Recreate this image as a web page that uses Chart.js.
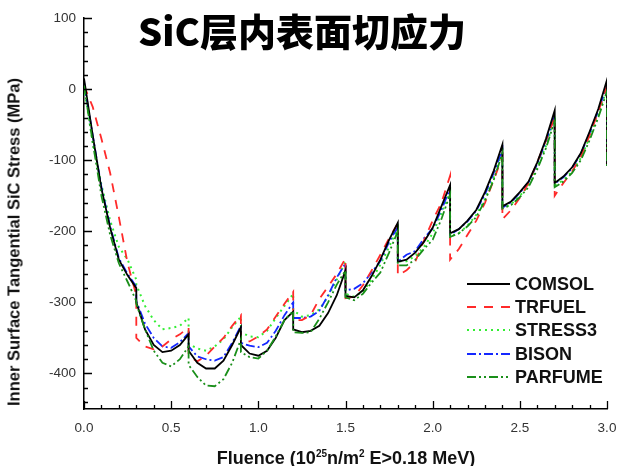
<!DOCTYPE html>
<html>
<head>
<meta charset="utf-8">
<script src="https://cdn.jsdelivr.net/npm/chart.js@4.4.1/dist/chart.umd.min.js"></script>
<style>
  html, body { margin: 0; padding: 0; background: #fff; }
  #wrap { position: relative; width: 619px; height: 466px; overflow: hidden; }
  #c { position: absolute; left: 0; top: 0; }
  #title { position: absolute; left: 302px; top: 30px; transform: translate(-50%, -50%); white-space: nowrap;
           font-family: "Noto Sans CJK SC", "Noto Sans", sans-serif; font-weight: 900; font-size: 38px; color: #000; line-height: 46px; }
  #ytitle { position: absolute; left: 14px; top: 242px; transform: translate(-50%, -50%) rotate(-90deg);
            white-space: nowrap; font-family: "Liberation Sans", Arial, sans-serif; font-weight: bold; font-size: 16.5px; color: #111; }
  #xtitle { position: absolute; left: 346px; top: 458px; transform: translate(-50%, -50%);
            white-space: nowrap; font-family: "Liberation Sans", Arial, sans-serif; font-weight: bold; font-size: 18px; color: #111; }
  #xtitle sup { font-size: 10px; vertical-align: 7px; line-height: 0; }
</style>
</head>
<body>
<div id="wrap">
  <canvas id="c" width="619" height="466"></canvas>
  <div id="title">SiC层内表面切应力</div>
  <div id="ytitle">Inner Surface Tangential SiC Stress (MPa)</div>
  <div id="xtitle">Fluence (10<sup>25</sup>n/m<sup>2</sup> E&gt;0.18 MeV)</div>
</div>
<script>
const fluence = [0,0.05,0.1,0.15,0.2,0.25,0.3,0.3,0.35,0.4,0.45,0.5,0.55,0.6,0.6,0.65,0.7,0.75,0.8,0.85,0.9,0.9,0.95,1.0,1.05,1.1,1.15,1.2,1.2,1.25,1.3,1.35,1.4,1.45,1.5,1.5,1.55,1.6,1.65,1.7,1.75,1.8,1.8,1.85,1.9,1.95,2.0,2.05,2.1,2.1,2.15,2.2,2.25,2.3,2.35,2.4,2.4,2.45,2.5,2.55,2.6,2.65,2.7,2.7,2.75,2.8,2.85,2.9,2.95,3.0,3.0];

const comsol = [15,-65,-140,-195,-240,-262,-280,-300,-338,-360,-370,-368,-360,-345,-368,-385,-393,-393,-382,-360,-335,-360,-372,-375,-368,-350,-325,-313,-338,-342,-340,-333,-315,-290,-255,-291,-293,-283,-263,-240,-212,-188,-243,-240,-230,-215,-195,-165,-135,-203,-197,-185,-170,-145,-115,-78,-165,-158,-145,-130,-103,-70,-30,-132,-123,-110,-90,-60,-28,13,-108];

const trfuel = [5,-25,-70,-118,-180,-245,-290,-350,-362,-366,-362,-352,-345,-335,-375,-383,-375,-362,-350,-333,-318,-355,-355,-348,-338,-320,-302,-285,-325,-325,-318,-295,-278,-260,-238,-294,-292,-276,-255,-233,-210,-189,-262,-255,-243,-213,-185,-160,-122,-240,-225,-205,-185,-160,-128,-95,-183,-170,-153,-132,-103,-72,-40,-150,-132,-116,-95,-65,-32,5,-105];

const stress3 = [2,-75,-135,-185,-222,-240,-268,-275,-305,-325,-338,-336,-333,-322,-358,-365,-368,-362,-352,-335,-320,-342,-348,-349,-340,-322,-305,-288,-311,-320,-318,-310,-292,-268,-243,-288,-292,-285,-268,-247,-222,-195,-242,-242,-235,-222,-203,-175,-145,-207,-203,-192,-177,-155,-125,-88,-168,-162,-150,-136,-110,-80,-42,-135,-128,-116,-97,-68,-35,0,-110];

const bison = [10,-65,-138,-193,-238,-260,-278,-298,-330,-350,-362,-364,-356,-343,-362,-376,-380,-382,-377,-357,-333,-357,-361,-363,-357,-340,-318,-300,-322,-322,-320,-312,-290,-265,-245,-283,-281,-273,-258,-242,-215,-194,-243,-233,-228,-210,-196,-170,-140,-205,-197,-186,-171,-148,-118,-85,-167,-159,-146,-131,-105,-73,-38,-133,-124,-111,-91,-62,-30,5,-108];

const parfume = [5,-75,-150,-205,-245,-271,-298,-302,-338,-368,-385,-390,-380,-362,-388,-405,-417,-418,-408,-385,-352,-370,-377,-379,-368,-348,-325,-312,-342,-343,-342,-323,-300,-275,-255,-293,-297,-288,-272,-258,-230,-200,-248,-248,-240,-225,-212,-183,-148,-208,-203,-193,-180,-157,-128,-90,-168,-163,-152,-138,-113,-83,-45,-138,-130,-118,-100,-72,-40,-3,-110];

const seriesNames = ['COMSOL','TRFUEL','STRESS3','BISON','PARFUME'];
const xTickValues = [0,0.5,1.0,1.5,2.0,2.5,3.0];
const yTickValues = [-400,-300,-200,-100,0,100];

const styles = [
  { color: '#000000', dash: [], width: 1.8 },
  { color: '#ff2a2a', dash: [9, 8], width: 1.8 },
  { color: '#33ee33', dash: [2, 4], width: 2 },
  { color: '#1428ff', dash: [9, 3, 2, 3], width: 1.8 },
  { color: '#1a8f1a', dash: [9, 3, 2, 3, 2, 3], width: 1.8 },
];
const allValues = [comsol, trfuel, stress3, bison, parfume];

const order = [1, 2, 4, 3, 0];
const datasets = seriesNames.map((name, i) => ({
  label: name,
  data: fluence.map((x, j) => ({ x: x, y: allValues[i][j] })),
  borderColor: styles[i].color,
  backgroundColor: styles[i].color,
  borderDash: styles[i].dash,
  borderWidth: styles[i].width,
  pointRadius: 0,
  tension: 0,
  fill: false,
  order: order[i],
}));

const tickPlugin = {
  id: 'inwardTicks',
  afterDatasetsDraw(chart) {
    const ctx = chart.ctx;
    const xs = chart.scales.x, ys = chart.scales.y;
    const a = chart.chartArea;
    ctx.save();
    ctx.strokeStyle = '#000';
    ctx.lineWidth = 1.3;
    ctx.setLineDash([]);
    ctx.beginPath();
    for (let k = 0; k <= 30; k++) {
      const v = k / 10;
      const px = Math.round(xs.getPixelForValue(v)) + 0.5;
      const len = (k % 5 === 0) ? 8 : 4;
      ctx.moveTo(px, a.bottom);
      ctx.lineTo(px, a.bottom - len);
    }
    for (let v = -440; v <= 100; v += 20) {
      const py = Math.round(ys.getPixelForValue(v)) + 0.5;
      const len = (v % 100 === 0) ? 8 : 4;
      ctx.moveTo(a.left, py);
      ctx.lineTo(a.left + len, py);
    }
    ctx.stroke();
    ctx.restore();
  }
};

const legendPlugin = {
  id: 'insideLegend',
  afterDraw(chart) {
    const ctx = chart.ctx;
    const rows = [284, 307, 330, 354, 377];
    ctx.save();
    seriesNames.forEach((name, i) => {
      const y = rows[i];
      ctx.strokeStyle = styles[i].color;
      ctx.lineWidth = 2;
      ctx.setLineDash(styles[i].dash);
      ctx.beginPath();
      ctx.moveTo(467, y);
      ctx.lineTo(510, y);
      ctx.stroke();
      ctx.setLineDash([]);
      ctx.fillStyle = '#111';
      ctx.font = 'bold 18px "Liberation Sans", Arial, sans-serif';
      ctx.textBaseline = 'middle';
      ctx.textAlign = 'left';
      ctx.fillText(name, 515, y + 1);
    });
    ctx.restore();
  }
};

new Chart(document.getElementById('c'), {
  type: 'line',
  data: { datasets },
  options: {
    responsive: false,
    animation: false,
    devicePixelRatio: 1,
    layout: { padding: { top: 18, right: 12, left: 0, bottom: 0 } },
    plugins: { legend: { display: false }, tooltip: { enabled: false }, title: { display: false } },
    scales: {
      x: {
        type: 'linear', min: 0, max: 3,
        grid: { display: false, drawTicks: false },
        border: { display: true, color: '#000', width: 1.5 },
        afterBuildTicks: s => { s.ticks = xTickValues.map(v => ({ value: v })); },
        ticks: { callback: v => Number(v).toFixed(1), color: '#333', padding: 11, maxRotation: 0, autoSkip: false,
                 font: { family: '"Liberation Sans", Arial, sans-serif', size: 13.5 } },
        afterFit: s => { s.height = 57; s.paddingLeft = 0; s.paddingRight = 0; }
      },
      y: {
        type: 'linear', min: -450, max: 100,
        grid: { display: false, drawTicks: false },
        border: { display: true, color: '#000', width: 1.5 },
        afterBuildTicks: s => { s.ticks = yTickValues.map(v => ({ value: v })); },
        ticks: { callback: v => String(v), color: '#333', padding: 8, autoSkip: false,
                 font: { family: '"Liberation Sans", Arial, sans-serif', size: 13.5 } },
        afterFit: s => { s.width = 84; s.paddingTop = 0; s.paddingBottom = 0; }
      }
    }
  },
  plugins: [tickPlugin, legendPlugin]
});
</script>
</body>
</html>
